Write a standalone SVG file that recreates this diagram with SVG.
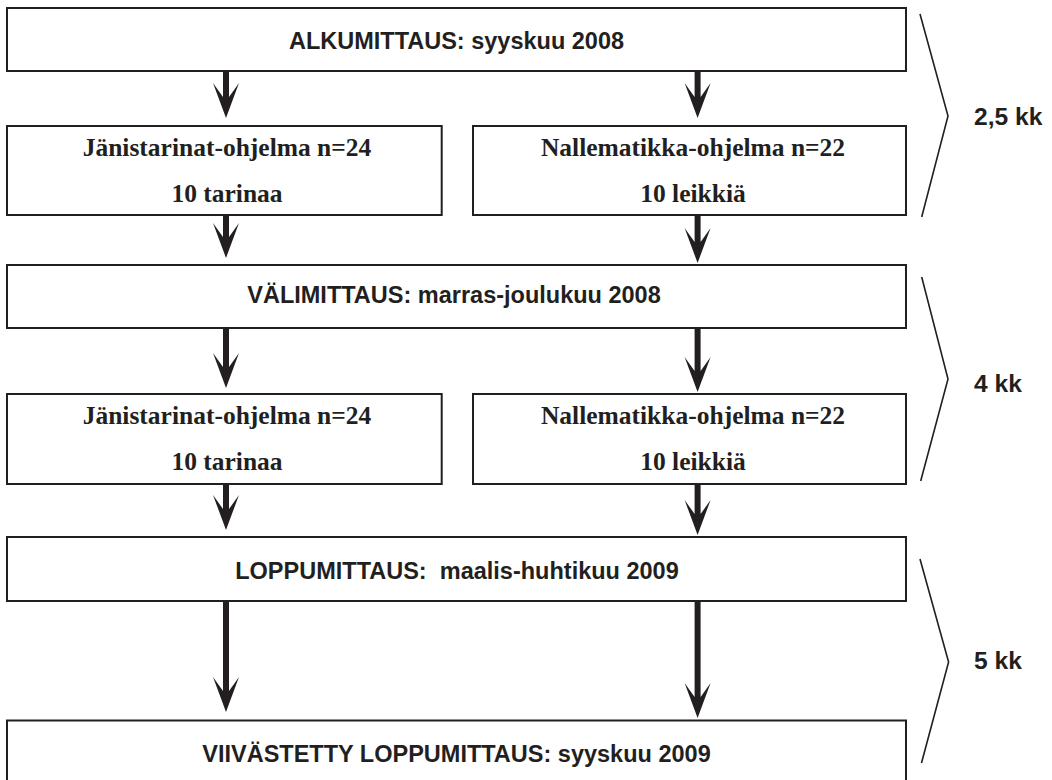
<svg xmlns="http://www.w3.org/2000/svg" width="1052" height="780" viewBox="0 0 1052 780">
<style>
.box{fill:#fff;stroke:#231f20;stroke-width:2}
.hd{font-family:"Liberation Sans",Arial,sans-serif;font-weight:bold;font-size:23.5px;fill:#231f20;text-anchor:middle;white-space:pre}
.sf{font-family:"Liberation Serif","Times New Roman",serif;font-weight:bold;font-size:25.5px;fill:#231f20;text-anchor:middle}
.kk{font-family:"Liberation Sans",Arial,sans-serif;font-weight:bold;font-size:24.6px;fill:#231f20}
.br{fill:none;stroke:#231f20;stroke-width:1.6}
.ar{fill:#231f20}
</style>
<rect width="1052" height="780" fill="#fff"/>
<g id="connectors">
<path class="ar" d="M223,71 L229,71 L229,97 L239,83 L226,118 L213,83 L223,97 Z"/>
<path class="ar" d="M694.6,71 L700.6,71 L700.6,97 L710.6,83 L697.6,118 L684.6,83 L694.6,97 Z"/>
<path class="ar" d="M223,215 L229,215 L229,237 L239,223 L226,258 L213,223 L223,237 Z"/>
<path class="ar" d="M694.6,215 L700.6,215 L700.6,242 L710.6,228 L697.6,263 L684.6,228 L694.6,242 Z"/>
<path class="ar" d="M223,328 L229,328 L229,367 L239,353 L226,388 L213,353 L223,367 Z"/>
<path class="ar" d="M694.6,328 L700.6,328 L700.6,371 L710.6,357 L697.6,392 L684.6,357 L694.6,371 Z"/>
<path class="ar" d="M223,484 L229,484 L229,509 L239,495 L226,530 L213,495 L223,509 Z"/>
<path class="ar" d="M694.6,484 L700.6,484 L700.6,514 L710.6,500 L697.6,535 L684.6,500 L694.6,514 Z"/>
<path class="ar" d="M223,601 L229,601 L229,691 L239,677 L226,712 L213,677 L223,691 Z"/>
<path class="ar" d="M694.6,601 L700.6,601 L700.6,697 L710.6,683 L697.6,718 L684.6,683 L694.6,697 Z"/>
</g>
<g id="alkumittaus">
<rect class="box" x="7" y="8" width="899" height="63"/>
<text class="hd" x="456.5" y="49">ALKUMITTAUS: syyskuu 2008</text>
</g>
<g id="janis1">
<rect class="box" x="7" y="126" width="434.7" height="89"/>
<text class="sf" x="227" y="156">Jänistarinat-ohjelma n=24</text>
<text class="sf" x="227" y="202">10 tarinaa</text>
</g>
<g id="nalle1">
<rect class="box" x="473" y="126" width="433" height="89"/>
<text class="sf" x="693" y="156">Nallematikka-ohjelma n=22</text>
<text class="sf" x="693" y="202">10 leikkiä</text>
</g>
<g id="valimittaus">
<rect class="box" x="7" y="265" width="899" height="63"/>
<text class="hd" x="454" y="303">VÄLIMITTAUS: marras-joulukuu 2008</text>
</g>
<g id="janis2">
<rect class="box" x="7" y="394" width="434.7" height="90"/>
<text class="sf" x="227" y="424">Jänistarinat-ohjelma n=24</text>
<text class="sf" x="227" y="470">10 tarinaa</text>
</g>
<g id="nalle2">
<rect class="box" x="473" y="394" width="433" height="90"/>
<text class="sf" x="693" y="424">Nallematikka-ohjelma n=22</text>
<text class="sf" x="693" y="470">10 leikkiä</text>
</g>
<g id="loppumittaus">
<rect class="box" x="7" y="537" width="899" height="64"/>
<text class="hd" x="457" y="579">LOPPUMITTAUS:  maalis-huhtikuu 2009</text>
</g>
<g id="viivastetty">
<rect class="box" x="7" y="720.5" width="899" height="75"/>
<text class="hd" x="456.5" y="762">VIIVÄSTETTY LOPPUMITTAUS: syyskuu 2009</text>
</g>
<g id="period1">
<polyline class="br" points="920,14 948,116 921.7,217"/>
<text class="kk" x="974" y="125">2,5 kk</text>
</g>
<g id="period2">
<polyline class="br" points="921.7,277 948,379 920.7,481"/>
<text class="kk" x="974" y="392">4 kk</text>
</g>
<g id="period3">
<polyline class="br" points="920,559 948.6,662 921.5,763"/>
<text class="kk" x="974" y="669">5 kk</text>
</g>
</svg>
